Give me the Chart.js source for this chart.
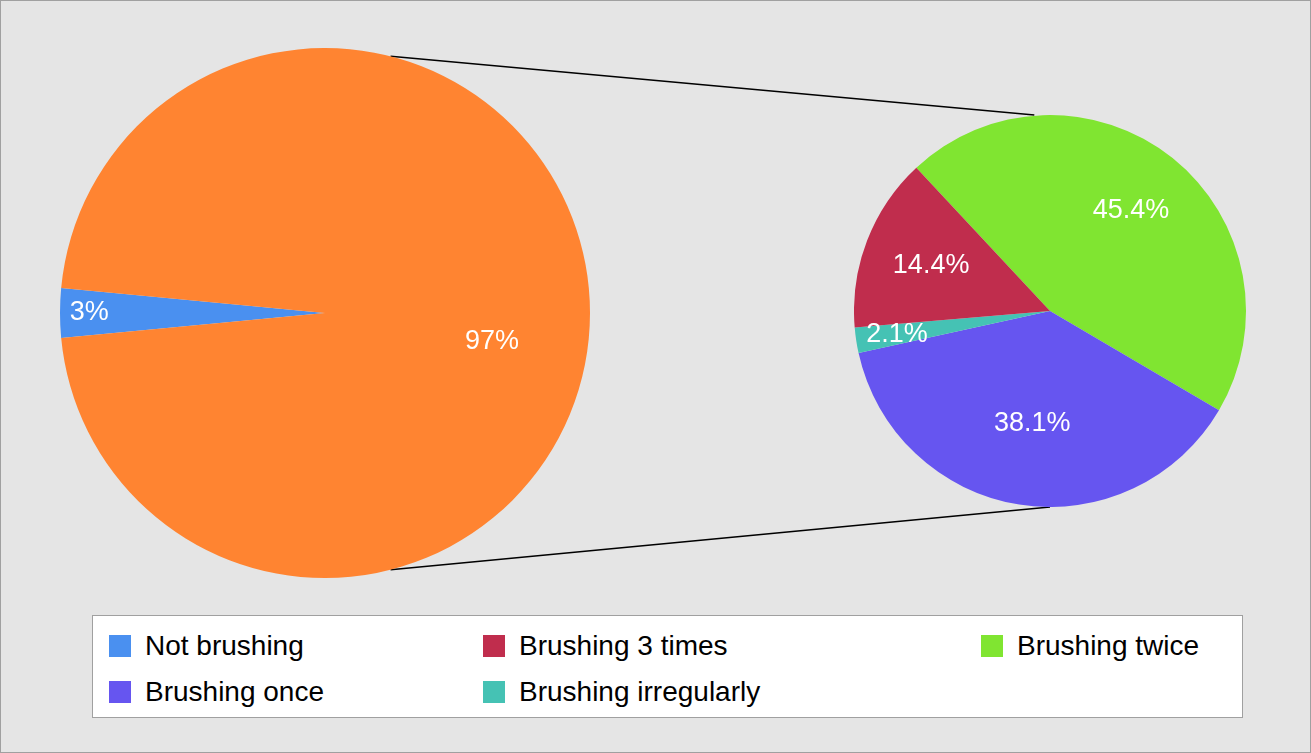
<!DOCTYPE html>
<html><head><meta charset="utf-8">
<script src="https://cdn.jsdelivr.net/npm/chart.js@4"></script>
<style>
  body{margin:0;width:1311px;height:753px;overflow:hidden;background:#fff;font-family:"Liberation Sans",Arial,sans-serif}
  #panel{position:absolute;left:0;top:0;width:1309px;height:751px;background:#e5e5e5;border:1px solid #a0a0a0}
  .cv{position:absolute}
  #legend{position:absolute;left:92px;top:615px;width:1149px;height:101px;background:#fff;border:1px solid #a0a0a0}
  .li{position:absolute;font-size:28px;color:#000;white-space:nowrap;line-height:32px}
  .li span{display:inline-block;width:22px;height:22px;margin-right:14px;vertical-align:-2px}
</style></head>
<body>
<div id="panel"></div>
<canvas id="lines" class="cv" width="1311" height="753" style="left:0;top:0"></canvas>
<div class="cv" style="left:60px;top:48px;width:530px;height:530px"><canvas id="pieMain"></canvas></div>
<div class="cv" style="left:854px;top:115px;width:392px;height:392px"><canvas id="pieSub"></canvas></div>
<div id="legend"></div>
<script>
// main pie
const mainLabels = ['Not brushing', 'Brushing'];
const mainValues = [3, 97];
const mainColors = ['#4a90f0', '#ff8431'];
// sub pie (split of the 97%)
const subLabels = ['Brushing twice', 'Brushing once', 'Brushing irregularly', 'Brushing 3 times'];
const subValues = [45.4, 38.1, 2.1, 14.4];
const subColors = ['#80e531', '#6655f0', '#45c2b4', '#c02d4d'];
// legend order
const legendLabels = ['Not brushing', 'Brushing 3 times', 'Brushing twice', 'Brushing once', 'Brushing irregularly'];
const legendColors = ['#4a90f0', '#c02d4d', '#80e531', '#6655f0', '#45c2b4'];

const labelPlugin = {
  id: 'pctLabels',
  afterDatasetsDraw(chart, args, opts) {
    const ctx = chart.ctx;
    const meta = chart.getDatasetMeta(0);
    ctx.save();
    ctx.fillStyle = '#fff';
    ctx.font = '27px "Liberation Sans", Arial, sans-serif';
    ctx.textAlign = 'center';
    ctx.textBaseline = 'middle';
    meta.data.forEach((arc, i) => {
      const mid = (arc.startAngle + arc.endAngle) / 2;
      const r = arc.outerRadius * opts.factors[i];
      ctx.fillText(chart.data.datasets[0].data[i] + '%', arc.x + Math.cos(mid) * r, arc.y + Math.sin(mid) * r + (opts.dy ? opts.dy[i] : 0));
    });
    ctx.restore();
  }
};

function makePie(id, labels, values, colors, rotation, factors, dy) {
  return new Chart(document.getElementById(id), {
    type: 'pie',
    data: { labels, datasets: [{ data: values, backgroundColor: colors, borderWidth: 0 }] },
    options: {
      responsive: true, maintainAspectRatio: true, animation: false, rotation,
      layout: { padding: 0 },
      plugins: { legend: { display: false }, tooltip: { enabled: false }, pctLabels: { factors, dy } }
    },
    plugins: [labelPlugin]
  });
}

const mainChart = makePie('pieMain', mainLabels, mainValues, mainColors, 264.6, [0.89, 0.63], [0, 29]);
const subChart = makePie('pieSub', subLabels, subValues, subColors, -43, [0.66, 0.58, 0.79, 0.65]);

// connector lines between the pies
(function drawLines(){
  const c = document.getElementById('lines').getContext('2d');
  const a = mainChart.getDatasetMeta(0).data[0], b = subChart.getDatasetMeta(0).data[0];
  const ax = 60 + a.x, ay = 48 + a.y, ar = a.outerRadius;
  const bx = 854 + b.x, by = 115 + b.y, br = b.outerRadius;
  const t1 = -Math.PI / 2 + 0.25, t2 = Math.PI / 2 - 0.25;
  c.strokeStyle = '#000'; c.lineWidth = 1.5;
  c.beginPath();
  c.moveTo(ax + ar * Math.cos(t1), ay + ar * Math.sin(t1)); c.lineTo(bx - br * 0.08, by - br);
  c.moveTo(ax + ar * Math.cos(t2), ay + ar * Math.sin(t2)); c.lineTo(bx, by + br);
  c.stroke();
})();

// html legend
const lg = document.getElementById('legend');
const pos = [[16, 14], [390, 14], [888, 14], [16, 60], [390, 60]];
legendLabels.forEach((l, i) => {
  const d = document.createElement('div');
  d.className = 'li';
  d.style.left = pos[i][0] + 'px'; d.style.top = pos[i][1] + 'px';
  d.innerHTML = '<span style="background:' + legendColors[i] + '"></span>' + l;
  lg.appendChild(d);
});
</script>
</body></html>
